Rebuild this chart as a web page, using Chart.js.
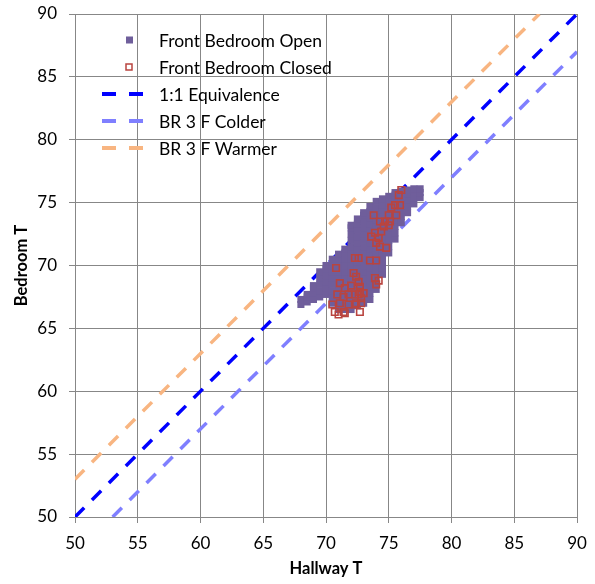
<!DOCTYPE html>
<html>
<head>
<meta charset="utf-8">
<script src="https://cdn.jsdelivr.net/npm/chart.js@4/dist/chart.umd.min.js"></script>
<style>
  html, body { margin: 0; padding: 0; background: #fff; }
  #wrap { width: 595px; height: 584px; }
</style>
</head>
<body>
<div id="wrap"><canvas id="chart"></canvas></div>
<script>
// Front bedroom open: [hallway T, [bedroom T readings]]
const openPoints = [
  [68.0, [66.9, 67.3]],
  [68.5, [67.1, 67.5, 67.7]],
  [69.0, [67.3, 67.8, 68.2, 68.4]],
  [69.5, [67.5, 68.0, 68.5, 69.0, 69.5]],
  [70.0, [67.7, 68.2, 68.7, 69.2, 69.7, 70.0]],
  [70.5, [67.0, 67.5, 68.0, 68.5, 69.0, 69.5, 70.0, 70.5]],
  [71.0, [66.5, 67.0, 67.5, 68.0, 68.5, 69.0, 69.5, 70.0, 70.5, 70.9]],
  [71.5, [66.5, 67.0, 67.5, 68.0, 68.5, 69.0, 69.5, 70.0, 70.5, 71.0, 71.3]],
  [72.0, [66.5, 67.0, 67.5, 68.0, 68.5, 69.0, 69.5, 70.0, 70.5, 71.0, 71.5, 72.0, 72.5, 73.0, 73.2]],
  [72.5, [66.8, 67.3, 67.8, 68.3, 68.8, 69.3, 69.8, 70.3, 70.8, 71.3, 71.8, 72.3, 72.8, 73.3, 73.7]],
  [73.0, [67.0, 67.5, 68.0, 68.5, 69.0, 69.5, 70.0, 70.5, 71.0, 71.5, 72.0, 72.5, 73.0, 73.5, 74.0, 74.2]],
  [73.5, [67.3, 67.8, 68.3, 68.8, 69.3, 69.8, 70.3, 70.8, 71.3, 71.8, 72.3, 72.8, 73.3, 73.8, 74.3, 74.7]],
  [74.0, [68.1, 68.6, 69.1, 69.6, 70.1, 70.6, 71.1, 71.6, 72.1, 72.6, 73.1, 73.6, 74.1, 74.6, 75.1]],
  [74.5, [69.3, 69.8, 70.3, 70.8, 71.3, 71.8, 72.3, 72.8, 73.3, 73.8, 74.3, 74.8, 75.3]],
  [75.0, [71.0, 71.5, 72.0, 72.5, 73.0, 73.5, 74.0, 74.5, 75.0, 75.5]],
  [75.5, [72.1, 72.6, 73.1, 73.6, 74.1, 74.6, 75.1, 75.6, 75.8]],
  [76.0, [73.4, 73.9, 74.4, 74.9, 75.4, 75.9]],
  [76.5, [74.2, 74.7, 75.2, 75.7, 76.0]],
  [77.0, [74.9, 75.4, 75.9, 76.1]],
  [77.5, [75.4, 75.8, 76.1]]
];

// Front bedroom closed: [hallway T, bedroom T]
const closedPoints = [
  [76.0, 76.0], [75.8, 75.6], [75.5, 74.8], [75.9, 74.8], [75.2, 74.6], [73.8, 74.0],
  [75.6, 74.0], [75.0, 74.0], [75.1, 73.5], [74.7, 73.5], [74.3, 73.5], [74.6, 73.1],
  [75.0, 73.2], [74.4, 72.7], [73.9, 72.6], [73.6, 72.3], [74.2, 72.2], [74.0, 71.8],
  [74.3, 71.5], [74.8, 71.4], [73.5, 70.4], [74.0, 70.4], [72.6, 70.6], [73.9, 69.0],
  [74.2, 68.8], [74.0, 68.5], [72.7, 68.3], [72.6, 67.7], [73.0, 67.8], [72.8, 67.4],
  [72.4, 67.0], [72.8, 67.0], [72.3, 70.6], [70.8, 69.8], [71.1, 68.6], [72.2, 69.4],
  [72.4, 69.1], [72.6, 68.7], [71.5, 68.2], [72.0, 68.4], [72.7, 67.9], [70.9, 67.7],
  [71.4, 67.5], [71.8, 67.7], [72.3, 67.7], [71.1, 67.0], [70.5, 66.9], [71.8, 66.9],
  [72.3, 66.9], [70.7, 66.3], [71.4, 66.3], [71.0, 66.1], [71.5, 66.2], [72.7, 66.3]
];

// reference lines (end points)
const equivLine = [[50, 50], [90, 90]];
const colderLine = [[53, 50], [90, 87]];
const warmerLine = [[50, 53], [87, 90]];

const axisMin = 50;
const axisMax = 90;
const axisStep = 5;

const toXY = pts => pts.map(p => ({ x: p[0], y: p[1] }));
const openData = [];
openPoints.forEach(col => col[1].forEach(y => openData.push({ x: col[0], y: y })));

const FONT = 'Lato, "Open Sans", sans-serif';
const GRID = '#878787';

// legend drawn inside the plot, top left, no background
const insideLegend = {
  id: 'insideLegend',
  afterDraw(chart) {
    const ctx = chart.ctx;
    const rows = [40, 67, 94, 121, 148];
    ctx.save();
    ctx.font = '17.5px ' + FONT;
    ctx.textBaseline = 'middle';
    chart.data.datasets.forEach((ds, i) => {
      const y = rows[i];
      if (ds.showLine) {
        ctx.strokeStyle = ds.borderColor;
        ctx.lineWidth = 4;
        ctx.setLineDash([14, 13]);
        ctx.beginPath();
        ctx.moveTo(102, y);
        ctx.lineTo(144, y);
        ctx.stroke();
        ctx.setLineDash([]);
      } else if (ds.pointBorderWidth > 0) {
        ctx.strokeStyle = ds.pointBorderColor;
        ctx.lineWidth = 1.5;
        ctx.strokeRect(126, y - 3, 6, 6);
      } else {
        ctx.fillStyle = ds.pointBackgroundColor;
        ctx.fillRect(126, y - 3.5, 7, 7);
      }
      ctx.fillStyle = '#000';
      ctx.fillText(ds.label, 159, y + 1);
    });
    ctx.restore();
  }
};

const lineSet = (label, pts, color, order) => ({
  label: label,
  data: toXY(pts),
  showLine: true,
  borderColor: color,
  borderWidth: 3.5,
  borderDash: [13, 11],
  pointRadius: 0,
  order: order
});

new Chart(document.getElementById('chart'), {
  type: 'scatter',
  data: {
    datasets: [
      {
        label: 'Front Bedroom Open',
        data: openData,
        pointStyle: 'rect',
        pointRadius: 5,
        pointBackgroundColor: '#6F5E9B',
        pointBorderColor: '#6F5E9B',
        pointBorderWidth: 0,
        order: 2
      },
      {
        label: 'Front Bedroom Closed',
        data: toXY(closedPoints),
        pointStyle: 'rect',
        pointRadius: 4.6,
        pointBackgroundColor: 'rgba(0,0,0,0)',
        pointBorderColor: '#B9443F',
        pointBorderWidth: 1.6,
        order: 1
      },
      lineSet('1:1 Equivalence', equivLine, '#0000FF', 3),
      lineSet('BR 3 F Colder', colderLine, '#7F7FFF', 4),
      lineSet('BR 3 F Warmer', warmerLine, '#F8B581', 5)
    ]
  },
  options: {
    responsive: true,
    maintainAspectRatio: false,
    animation: false,
    layout: { padding: { left: 0, right: 18, top: 14, bottom: 0 } },
    plugins: {
      legend: { display: false },
      tooltip: { enabled: false }
    },
    scales: {
      x: {
        type: 'linear',
        min: axisMin,
        max: axisMax,
        afterFit: s => { s.height = 67; s.paddingLeft = 0; s.paddingRight = 0; },
        ticks: { stepSize: axisStep, color: '#000', padding: 10, font: { family: FONT, size: 17 } },
        grid: { color: GRID, lineWidth: 1, tickLength: 6 },
        border: { color: GRID },
        title: {
          display: true,
          text: 'Hallway T',
          color: '#000',
          padding: { top: 0, bottom: 5 },
          font: { family: FONT, size: 16.5, weight: 'bold' }
        }
      },
      y: {
        type: 'linear',
        min: axisMin,
        max: axisMax,
        afterFit: s => { s.width = 75; s.paddingTop = 0; s.paddingBottom = 0; },
        ticks: { stepSize: axisStep, color: '#000', padding: 12, font: { family: FONT, size: 17 } },
        grid: { color: GRID, lineWidth: 1, tickLength: 6 },
        border: { color: GRID },
        title: {
          display: true,
          text: 'Bedroom T',
          color: '#000',
          padding: { top: 12, bottom: 0 },
          font: { family: FONT, size: 16.5, weight: 'bold' }
        }
      }
    }
  },
  plugins: [insideLegend]
});
</script>
</body>
</html>
